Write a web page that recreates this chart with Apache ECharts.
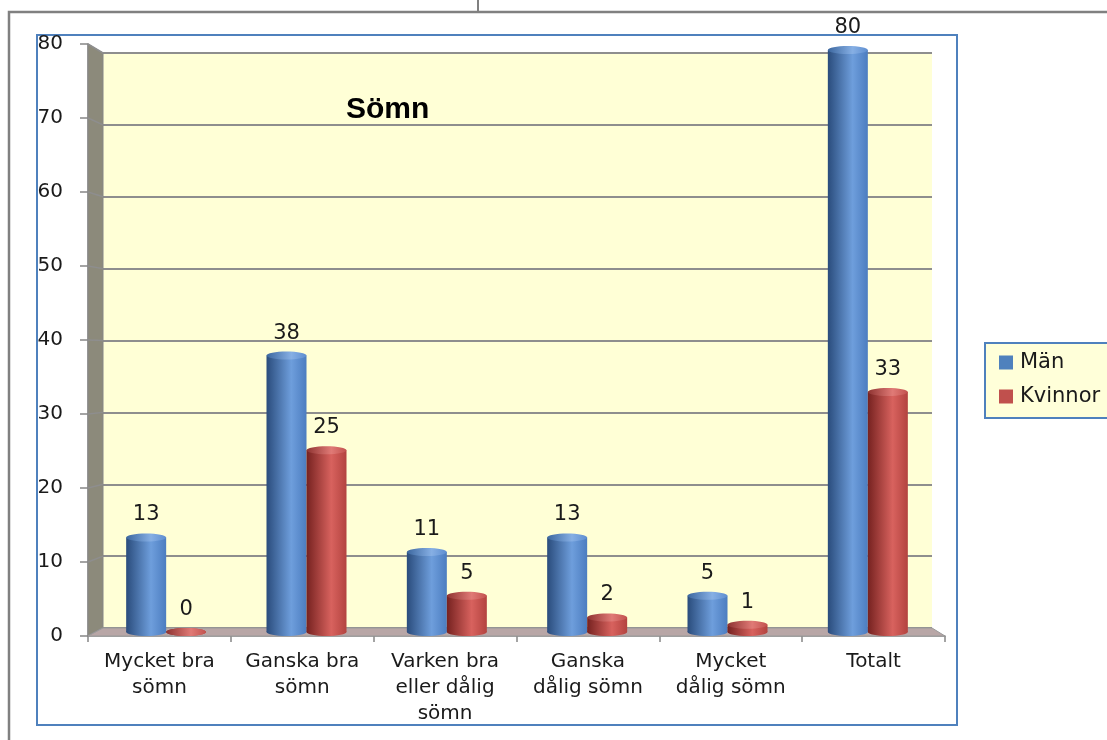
<!DOCTYPE html>
<html><head><meta charset="utf-8">
<script src="https://cdn.jsdelivr.net/npm/echarts@6/dist/echarts.min.js"></script>
<style>html,body{margin:0;padding:0;background:#fff}#c{width:1107px;height:740px}</style>
</head><body><div id="c"></div>
<script>
// ---- data ----
const categories = ['Mycket bra\nsömn', 'Ganska bra\nsömn', 'Varken bra\neller dålig\nsömn', 'Ganska\ndålig sömn', 'Mycket\ndålig sömn', 'Totalt'];
const menValues = [13, 38, 11, 13, 5, 80];
const womenValues = [0, 25, 5, 2, 1, 33];
const seriesNames = ['Män', 'Kvinnor'];
const yMin = 0, yMax = 80, yStep = 10;
const titleText = 'Sömn';

// ---- styling ----
const FONT = 'DejaVu Sans';
const GRID_BACK = { left: 103, top: 53, width: 829, height: 575 };
const GRID_FRONT = { left: 88, top: 44, width: 857, height: 592 };
const GRID_BARS = { left: 96, top: 50, width: 842, height: 582 };
const BAR_W = 40;

function grad(stops) {
  return new echarts.graphic.LinearGradient(0, 0, 1, 0, stops.map((c, i) => ({ offset: [0, 0.62, 1][i], color: c })));
}
const styles = [
  { body: grad(['#2A4C7C', '#6E9EDC', '#4C7DC0']), cap: grad(['#3C679F', '#86AFE4', '#5E8ED0']), legend: '#4F81BD' },
  { body: grad(['#762220', '#D8625E', '#B3433F']), cap: grad(['#8E3331', '#E07A76', '#C2524E']), legend: '#C0504D' }
];
const valuesList = [menValues, womenValues];

const series = [];
valuesList.forEach((vals, i) => {
  series.push({
    type: 'bar', name: seriesNames[i], data: vals, xAxisIndex: 2, yAxisIndex: 2,
    barWidth: BAR_W, barGap: '0%', z: 3,
    itemStyle: { color: styles[i].body },
    label: { show: true, position: 'top', distance: 12, fontFamily: FONT, fontSize: 21, color: '#1a1a1a' }
  });
});
valuesList.forEach((vals, i) => {
  series.push({
    type: 'custom', name: seriesNames[i] + ' caps', xAxisIndex: 2, yAxisIndex: 2, z: 4, silent: true,
    data: vals.map((v, k) => [k, v]),
    encode: { x: 0, y: 1 },
    renderItem: function (params, api) {
      const k = api.value(0), v = api.value(1);
      const top = api.coord([k, v]);
      const base = api.coord([k, 0]);
      const cx = top[0] + (i === 0 ? -BAR_W / 2 : BAR_W / 2);
      return { type: 'group', children: [
        { type: 'ellipse', shape: { cx: cx, cy: base[1], rx: BAR_W / 2, ry: 4 }, style: { fill: styles[i].body } },
        { type: 'ellipse', shape: { cx: cx, cy: top[1], rx: BAR_W / 2, ry: 4 }, style: { fill: styles[i].cap } }
      ] };
    }
  });
});

const chart = echarts.init(document.getElementById('c'), null, { renderer: 'canvas' });
const gray = '#868686';
chart.setOption({
  animation: false,
  backgroundColor: '#ffffff',
  title: { text: titleText, left: 346, top: 95, padding: 0,
    textStyle: { fontFamily: 'Liberation Sans', fontWeight: 'bold', fontSize: 30, color: '#000' } },
  legend: {
    orient: 'vertical', left: 985, top: 343,
    data: seriesNames.map((n, i) => ({ name: n, itemStyle: { color: styles[i].legend } })),
    icon: 'rect', itemWidth: 14, itemHeight: 14, itemGap: 13,
    padding: [9, 40, 11, 14], backgroundColor: '#FFFFD9', borderColor: '#4F81BD', borderWidth: 2, borderRadius: 0,
    textStyle: { fontFamily: FONT, fontSize: 21, color: '#1a1a1a', padding: [0, 0, 0, 2] }
  },
  grid: [
    Object.assign({ show: true, backgroundColor: '#FFFFD6', borderWidth: 0 }, GRID_BACK),
    Object.assign({}, GRID_FRONT),
    Object.assign({}, GRID_BARS)
  ],
  xAxis: [
    { type: 'category', gridIndex: 0, data: categories, show: false },
    { type: 'category', gridIndex: 1, data: categories,
      axisLine: { lineStyle: { color: gray, width: 1.5 } },
      axisTick: { show: true, length: 6, lineStyle: { color: gray, width: 1.5 } },
      axisLabel: { fontFamily: FONT, fontSize: 20, lineHeight: 26, margin: 13, color: '#1a1a1a', interval: 0 } },
    { type: 'category', gridIndex: 2, data: categories, show: false }
  ],
  yAxis: [
    { type: 'value', gridIndex: 0, min: yMin, max: yMax, interval: yStep,
      axisLine: { show: false }, axisTick: { show: false }, axisLabel: { show: false },
      splitLine: { show: true, lineStyle: { color: '#8E8E8E', width: 2 } } },
    { type: 'value', gridIndex: 1, min: yMin, max: yMax, interval: yStep,
      axisLine: { show: true, lineStyle: { color: gray, width: 1.5 } },
      axisTick: { show: true, length: 8, lineStyle: { color: gray, width: 1.5 } },
      splitLine: { show: false },
      axisLabel: { fontFamily: FONT, fontSize: 20, margin: 25, color: '#1a1a1a' } },
    { type: 'value', gridIndex: 2, min: yMin, max: yMax, interval: yStep, show: false, splitLine: { show: false } }
  ],
  series: series
});

// decorations: side wall, floor, frames
const gfx = [];
const bl = GRID_BACK.left, br = GRID_BACK.left + GRID_BACK.width;
const fl = GRID_FRONT.left, fr = GRID_FRONT.left + GRID_FRONT.width;
const yb0 = chart.convertToPixel({ yAxisIndex: 0 }, yMin), yb1 = chart.convertToPixel({ yAxisIndex: 0 }, yMax);
const yf0 = chart.convertToPixel({ yAxisIndex: 1 }, yMin), yf1 = chart.convertToPixel({ yAxisIndex: 1 }, yMax);
gfx.push({ type: 'polygon', z: 1, shape: { points: [[fl, yf1], [bl, yb1], [bl, yb0], [fl, yf0]] },
  style: { fill: '#8C8A7B', stroke: gray, lineWidth: 1 } });
for (let v = yMin; v <= yMax; v += yStep) {
  gfx.push({ type: 'line', z: 1, shape: { x1: fl, y1: chart.convertToPixel({ yAxisIndex: 1 }, v), x2: bl, y2: chart.convertToPixel({ yAxisIndex: 0 }, v) },
    style: { stroke: '#8E8E8E', lineWidth: 1.5 } });
}
gfx.push({ type: 'polygon', z: 1, shape: { points: [[bl, yb0], [br, yb0], [fr, yf0], [fl, yf0]] },
  style: { fill: '#B8A6A6', stroke: '#9A9A9A', lineWidth: 1 } });
// blue chart frame
gfx.push({ type: 'rect', z: 0, shape: { x: 37, y: 35, width: 920, height: 690 }, style: { fill: null, stroke: '#4F81BD', lineWidth: 2 } });
// outer gray page lines
gfx.push({ type: 'polyline', z: 0, shape: { points: [[9, 740], [9, 12], [1107, 12]] }, style: { stroke: '#808080', lineWidth: 2.5, fill: null } });
gfx.push({ type: 'line', z: 0, shape: { x1: 478, y1: 0, x2: 478, y2: 12 }, style: { stroke: '#808080', lineWidth: 2 } });
chart.setOption({ graphic: gfx });
</script></body></html>
